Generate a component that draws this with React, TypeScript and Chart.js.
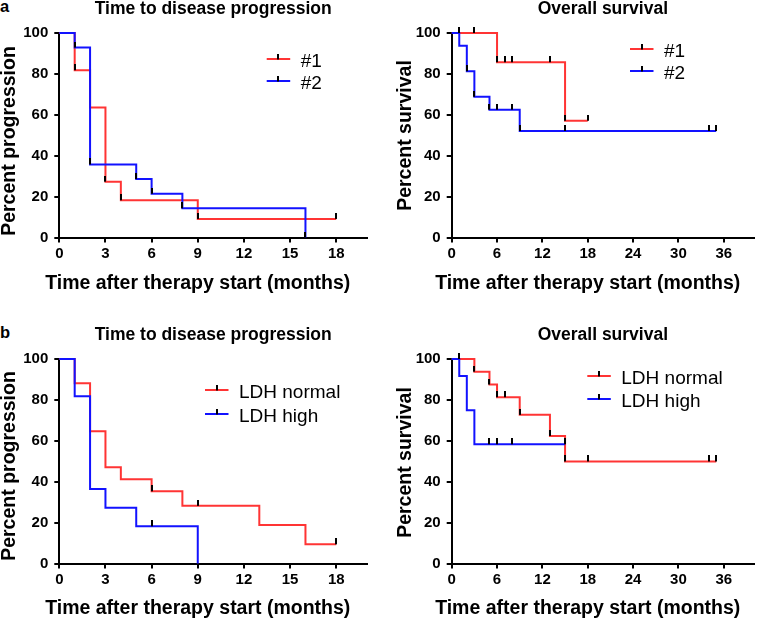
import React, { useEffect, useRef } from "react";
import { Chart, registerables } from "chart.js";

Chart.register(...registerables);

const FONT = "'Liberation Sans', Arial, Helvetica, sans-serif";
const RED = "rgb(255, 52, 52)";
const BLUE = "rgb(18, 18, 255)";

// ---------- Panel a: Time to disease progression (#1 / #2)
const ttpATime1 = [0, 1, 2, 3, 4, 9, 18];
const ttpAPct1 = [100, 81.8, 63.6, 27.3, 18.2, 9.1, 9.1];
const ttpATickTime1 = [1, 3, 4, 9, 18];
const ttpATickPct1 = [81.8, 27.3, 18.2, 9.1, 9.1];
const ttpATime2 = [0, 1, 2, 5, 6, 8, 16];
const ttpAPct2 = [100, 92.9, 35.7, 28.6, 21.4, 14.3, 0];
const ttpATickTime2 = [1, 2, 5, 6, 8, 16];
const ttpATickPct2 = [92.9, 35.7, 28.6, 21.4, 14.3, 0];

// ---------- Panel a: Overall survival (#1 / #2)
const osATime1 = [0, 6, 15, 18];
const osAPct1 = [100, 85.7, 57.1, 57.1];
const osATickTime1 = [1, 3, 6, 7, 8, 13, 15, 18];
const osATickPct1 = [100, 100, 85.7, 85.7, 85.7, 85.7, 57.1, 57.1];
const osATime2 = [0, 1, 2, 3, 5, 9, 35];
const osAPct2 = [100, 93.8, 81.3, 68.8, 62.5, 52.1, 52.1];
const osATickTime2 = [2, 3, 5, 6, 8, 9, 15, 34, 35];
const osATickPct2 = [81.3, 68.8, 62.5, 62.5, 62.5, 52.1, 52.1, 52.1, 52.1];

// ---------- Panel b: Time to disease progression (LDH)
const ttpBTime1 = [0, 1, 2, 3, 4, 6, 8, 13, 16, 18];
const ttpBPct1 = [100, 88.2, 64.7, 47.1, 41.2, 35.3, 28.2, 18.8, 9.4, 9.4];
const ttpBTickTime1 = [6, 9, 18];
const ttpBTickPct1 = [35.3, 28.2, 9.4];
const ttpBTime2 = [0, 1, 2, 3, 5, 9];
const ttpBPct2 = [100, 81.8, 36.4, 27.3, 18.2, 0];
const ttpBTickTime2 = [6];
const ttpBTickPct2 = [18.2];

// ---------- Panel b: Overall survival (LDH)
const osBTime1 = [0, 3, 5, 6, 9, 13, 15, 35];
const osBPct1 = [100, 93.8, 87.5, 81.3, 72.7, 62.4, 49.9, 49.9];
const osBTickTime1 = [1, 3, 5, 6, 7, 9, 13, 15, 18, 34, 35];
const osBTickPct1 = [100, 93.8, 87.5, 81.3, 81.3, 72.7, 62.4, 49.9, 49.9, 49.9, 49.9];
const osBTime2 = [0, 1, 2, 3, 15];
const osBPct2 = [100, 91.7, 75, 58.3, 58.3];
const osBTickTime2 = [5, 6, 8, 15];
const osBTickPct2 = [58.3, 58.3, 58.3, 58.3];

// ---------- Axes
const ttpXTicks = [0, 3, 6, 9, 12, 15, 18];
const osXTicks = [0, 6, 12, 18, 24, 30, 36];
const yTicks = [0, 20, 40, 60, 80, 100];
const ttpXMax = 20;
const osXMax = 40;

const titleTTP = "Time to disease progression";
const titleOS = "Overall survival";
const yTitleTTP = "Percent progression";
const yTitleOS = "Percent survival";
const xTitle = "Time after therapy start (months)";
const labelsA = ["#1", "#2"];
const labelsB = ["LDH normal", "LDH high"];

interface SeriesDef {
  label: string;
  color: string;
  time: number[];
  pct: number[];
  tickTime: number[];
  tickPct: number[];
}

interface PanelDef {
  title: string;
  yTitle: string;
  xMax: number;
  xTicks: number[];
  series: SeriesDef[];
  left: number;
  top: number;
  width: number;
  height: number;
  areaLeft: number;
  areaRight: number;
  areaBottom: number;
  legendX: number;
  legendY: number;
  legendGap: number;
  yTitleX: number;
  yTitleY: number;
  xTitleY: number;
}

const panels: PanelDef[] = [
  {
    title: titleTTP, yTitle: yTitleTTP, xMax: ttpXMax, xTicks: ttpXTicks,
    series: [
      { label: labelsA[0], color: RED, time: ttpATime1, pct: ttpAPct1, tickTime: ttpATickTime1, tickPct: ttpATickPct1 },
      { label: labelsA[1], color: BLUE, time: ttpATime2, pct: ttpAPct2, tickTime: ttpATickTime2, tickPct: ttpATickPct2 },
    ],
    left: 0, top: 0, width: 380, height: 300, areaLeft: 59.3, areaRight: 367, areaBottom: 237.5,
    legendX: 266.7, legendY: 59, legendGap: 22, yTitleX: 10, yTitleY: 141, xTitleY: 284,
  },
  {
    title: titleOS, yTitle: yTitleOS, xMax: osXMax, xTicks: osXTicks,
    series: [
      { label: labelsA[0], color: RED, time: osATime1, pct: osAPct1, tickTime: osATickTime1, tickPct: osATickPct1 },
      { label: labelsA[1], color: BLUE, time: osATime2, pct: osAPct2, tickTime: osATickTime2, tickPct: osATickPct2 },
    ],
    left: 380, top: 0, width: 381, height: 300, areaLeft: 71.7, areaRight: 380, areaBottom: 237.5,
    legendX: 250, legendY: 49, legendGap: 22, yTitleX: 25.5, yTitleY: 135.5, xTitleY: 284,
  },
  {
    title: titleTTP, yTitle: yTitleTTP, xMax: ttpXMax, xTicks: ttpXTicks,
    series: [
      { label: labelsB[0], color: RED, time: ttpBTime1, pct: ttpBPct1, tickTime: ttpBTickTime1, tickPct: ttpBTickPct1 },
      { label: labelsB[1], color: BLUE, time: ttpBTime2, pct: ttpBPct2, tickTime: ttpBTickTime2, tickPct: ttpBTickPct2 },
    ],
    left: 0, top: 326, width: 380, height: 300, areaLeft: 59.3, areaRight: 367, areaBottom: 237.5,
    legendX: 205, legendY: 64, legendGap: 24, yTitleX: 10, yTitleY: 140, xTitleY: 283,
  },
  {
    title: titleOS, yTitle: yTitleOS, xMax: osXMax, xTicks: osXTicks,
    series: [
      { label: labelsB[0], color: RED, time: osBTime1, pct: osBPct1, tickTime: osBTickTime1, tickPct: osBTickPct1 },
      { label: labelsB[1], color: BLUE, time: osBTime2, pct: osBPct2, tickTime: osBTickTime2, tickPct: osBTickPct2 },
    ],
    left: 380, top: 326, width: 381, height: 300, areaLeft: 71.7, areaRight: 380, areaBottom: 237.5,
    legendX: 207.3, legendY: 50, legendGap: 23, yTitleX: 25.5, yTitleY: 136.5, xTitleY: 283,
  },
];

function makeOverlay(p: PanelDef) {
  return {
    id: "kmOverlay",
    afterDraw(chart: any) {
      const ctx = chart.ctx as CanvasRenderingContext2D;
      const xs = chart.scales.x;
      ctx.save();
      ctx.fillStyle = "#000";
      ctx.font = `bold 19.5px ${FONT}`;
      ctx.textAlign = "center";
      ctx.textBaseline = "middle";
      const cx =
        (xs.getPixelForValue(p.xTicks[0]) + xs.getPixelForValue(p.xTicks[p.xTicks.length - 1])) / 2;
      ctx.fillText(xTitle, cx, p.xTitleY);
      ctx.translate(p.yTitleX, p.yTitleY);
      ctx.rotate(-Math.PI / 2);
      ctx.fillText(p.yTitle, 0, 0);
      ctx.restore();

      p.series.forEach((s, i) => {
        const y = p.legendY + i * p.legendGap;
        ctx.save();
        ctx.lineWidth = 2;
        ctx.strokeStyle = s.color;
        ctx.beginPath();
        ctx.moveTo(p.legendX, y);
        ctx.lineTo(p.legendX + 23.5, y);
        ctx.stroke();
        ctx.strokeStyle = "#000";
        const mx = Math.round(p.legendX + 11.75);
        ctx.beginPath();
        ctx.moveTo(mx, y - 5);
        ctx.lineTo(mx, y + 0.5);
        ctx.stroke();
        ctx.fillStyle = "#000";
        ctx.font = `19px ${FONT}`;
        ctx.textAlign = "left";
        ctx.textBaseline = "middle";
        ctx.fillText(s.label, p.legendX + 34, y + 2.5);
        ctx.restore();
      });
    },
  };
}

function KMPanel({ p }: { p: PanelDef }) {
  const ref = useRef<HTMLCanvasElement | null>(null);
  useEffect(() => {
    if (!ref.current) return;
    const tick = document.createElement("canvas");
    tick.width = 2;
    tick.height = 12;
    const tctx = tick.getContext("2d")!;
    tctx.fillStyle = "#000";
    tctx.fillRect(0, 0, 2, 6);

    const tickDatasets = p.series.map((s) => ({
      type: "scatter" as const,
      data: s.tickTime.map((x, i) => ({ x, y: s.tickPct[i] })),
      pointStyle: tick as any,
      pointRadius: 6,
      showLine: false,
      order: 0,
      clip: false as any,
    }));
    const lineDatasets = p.series.map((s, idx) => ({
      type: "line" as const,
      data: s.time.map((x, i) => ({ x, y: s.pct[i] })),
      borderColor: s.color,
      backgroundColor: s.color,
      borderWidth: 2,
      stepped: "before" as const,
      pointRadius: 0,
      fill: false,
      tension: 0,
      borderCapStyle: "butt" as const,
      borderJoinStyle: "miter" as const,
      order: idx === 0 ? 2 : 1,
      clip: false as any,
    }));

    const tickFont = { family: FONT, size: 15, weight: "bold" as const };
    const chart = new Chart(ref.current, {
      type: "line",
      data: { datasets: [...tickDatasets, ...lineDatasets] as any },
      options: {
        animation: false,
        responsive: false,
        maintainAspectRatio: false,
        events: [],
        layout: { padding: { left: 0, right: p.width - p.areaRight, top: 0, bottom: 0 } },
        plugins: {
          legend: { display: false },
          tooltip: { enabled: false },
          title: {
            display: true,
            text: p.title,
            fullSize: false,
            color: "#000",
            font: { family: FONT, size: 17.5, weight: "bold", lineHeight: 1 },
            padding: { top: 0, bottom: 15.5 },
          },
        },
        scales: {
          x: {
            type: "linear",
            min: 0,
            max: p.xMax,
            afterBuildTicks: (axis: any) => {
              axis.ticks = p.xTicks.map((v) => ({ value: v }));
            },
            afterFit: (axis: any) => {
              axis.height = p.height - p.areaBottom;
            },
            ticks: { color: "#000", font: tickFont, padding: 2, maxRotation: 0, autoSkip: false, includeBounds: false },
            grid: { drawOnChartArea: false, drawTicks: true, tickLength: 5, color: "#000", tickColor: "#000", lineWidth: 2, tickWidth: 2 },
            border: { display: true, color: "#000", width: 2 },
          },
          y: {
            type: "linear",
            min: 0,
            max: 100,
            afterBuildTicks: (axis: any) => {
              axis.ticks = yTicks.map((v) => ({ value: v }));
            },
            afterFit: (axis: any) => {
              axis.width = p.areaLeft;
            },
            ticks: { color: "#000", font: tickFont, padding: 6, autoSkip: false },
            grid: { drawOnChartArea: false, drawTicks: true, tickLength: 5, color: "#000", tickColor: "#000", lineWidth: 2, tickWidth: 2 },
            border: { display: true, color: "#000", width: 2 },
          },
        },
      } as any,
      plugins: [makeOverlay(p)],
    });
    return () => chart.destroy();
  }, [p]);

  return (
    <canvas
      ref={ref}
      width={p.width}
      height={p.height}
      style={{ position: "absolute", left: p.left, top: p.top, width: p.width, height: p.height }}
    />
  );
}

const panelLetterStyle: React.CSSProperties = {
  position: "absolute",
  left: 0,
  fontFamily: FONT,
  fontWeight: "bold",
  fontSize: "16.5px",
  lineHeight: "16.5px",
  color: "#000",
};

export default function App() {
  return (
    <div
      style={{
        position: "absolute",
        left: 0,
        top: 0,
        width: 761,
        height: 619,
        overflow: "hidden",
        background: "#fff",
      }}
    >
      <div style={{ ...panelLetterStyle, top: -2.3 }}>a</div>
      <div style={{ ...panelLetterStyle, top: 324.3 }}>b</div>
      {panels.map((p, i) => (
        <KMPanel key={i} p={p} />
      ))}
    </div>
  );
}
